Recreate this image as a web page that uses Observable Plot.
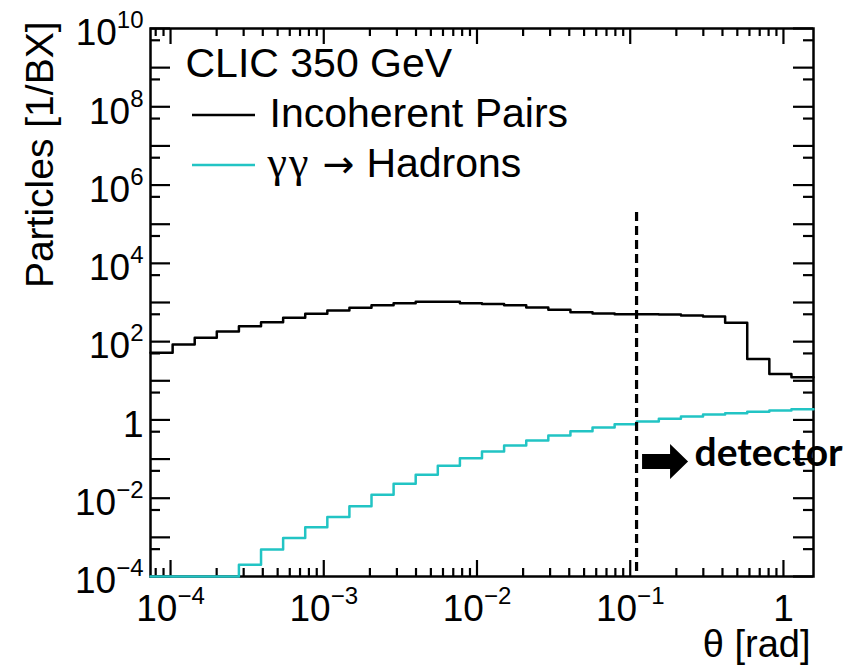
<!DOCTYPE html>
<html>
<head>
<meta charset="utf-8">
<script src="https://cdn.jsdelivr.net/npm/d3@7"></script>
<script src="https://cdn.jsdelivr.net/npm/@observablehq/plot@0.6"></script>
<style>
  html, body { margin: 0; padding: 0; background: #fff; }
  #chart svg { display: block; }
</style>
</head>
<body>
<div id="chart"></div>
<script>
// Polar angle bin edges θ [rad]: 30 logarithmic bins up to π/2
const binEdges = [
  7.40e-5, 1.032e-4, 1.438e-4, 2.004e-4, 2.794e-4, 3.896e-4, 5.430e-4, 7.568e-4,
  1.055e-3, 1.470e-3, 2.049e-3, 2.856e-3, 3.981e-3, 5.549e-3, 7.735e-3,
  1.078e-2, 1.503e-2, 2.096e-2, 2.921e-2, 4.072e-2, 5.675e-2, 7.911e-2,
  0.1103, 0.1537, 0.2143, 0.2987, 0.4163, 0.5803, 0.8089, 1.1274, 1.5708
];

// Particles per bunch crossing in each θ bin
const incoherentPairs = [
  52, 84, 125, 182, 248, 313, 406, 514, 624, 731, 853, 959, 1040, 1040, 959,
  914, 853, 745, 650, 565, 523, 502, 502, 493, 465, 438, 303, 36, 15, 12.3
];
const gammaGammaHadrons = [
  0, 0, 0, 0, 2.0e-4, 4.9e-4, 9.7e-4, 1.8e-3, 3.3e-3, 6.2e-3, 1.22e-2, 2.33e-2,
  3.96e-2, 6.8e-2, 0.105, 0.156, 0.222, 0.298, 0.399, 0.514, 0.64, 0.776, 0.91,
  1.07, 1.22, 1.37, 1.48, 1.61, 1.74, 1.87
];

// Axis labels
const xTickDecades = [-4, -3, -2, -1, 0];
const yTickDecades = [-4, -2, 0, 2, 4, 6, 8, 10];
const seriesNames = ["Incoherent Pairs", "\u03b3\u03b3 \u2192 Hadrons"];
const seriesColors = ["#000000", "#22c4c4"];
const headline = "CLIC 350 GeV";
const xTitle = "\u03b8 [rad]";
const yTitle = "Particles [1/BX]";

// Detector acceptance edge
const detectorTheta = 0.11;
const detectorLineTop = 2e5;
const detectorLabel = "detector";
const detectorLevel = 0.087;

const xDomain = [binEdges[0], binEdges[binEdges.length - 1]];
const yDomain = [1e-4, 1e10];

// Step-histogram points (last bin closed at the upper edge); empty bins sit on the axis floor
function histogram(values) {
  const pts = values.map((v, i) => ({theta: binEdges[i], n: Math.max(v, yDomain[0])}));
  pts.push({theta: binEdges[values.length], n: Math.max(values[values.length - 1], yDomain[0])});
  return pts;
}

const fmtPow = (k) => k === 0 ? "1" : "10^" + String(k).replace("-", "\u2212");

// Tick positions: decades and intermediate minor ticks
const xMajor = d3.range(-4, 1).map(k => 10 ** k);
const xMinor = [];
for (let k = -5; k <= 0; k++) for (let m = 2; m <= 9; m++) {
  const v = m * 10 ** k;
  if (v > xDomain[0] && v < xDomain[1]) xMinor.push(v);
}
const yMajor = d3.range(-4, 11).map(k => 10 ** k);
const yMinor = d3.range(-4, 10).map(k => 5 * 10 ** k);

const W = 855, H = 665;
const margin = {left: 150, right: 42, top: 28, bottom: 89};
const frameW = W - margin.left - margin.right;
const frameH = H - margin.top - margin.bottom;

const tickStroke = {stroke: "black", strokeWidth: 2.2};

// Legend swatches and the arrow pointing into the detector
function overlay(index, scales, values, dimensions) {
  const g = d3.create("svg:g");
  const x0 = dimensions.marginLeft, y0 = dimensions.marginTop;
  seriesColors.forEach((c, i) => {
    g.append("line")
      .attr("x1", x0 + 42).attr("x2", x0 + 105)
      .attr("y1", y0 + 87 + 50 * i).attr("y2", y0 + 87 + 50 * i)
      .attr("stroke", c).attr("stroke-width", 2.5);
  });
  const ax = scales.x(detectorTheta) + 6;
  const ay = scales.y(detectorLevel);
  g.append("path")
    .attr("d", `M${ax},${ay - 7}h28v-10l18,17.5l-18,17.5v-10h-28z`)
    .attr("fill", "black");
  return g.node();
}

const legendText = {frameAnchor: "top-left", textAnchor: "start", lineAnchor: "bottom", fontSize: 41, fill: "black"};

const chart = Plot.plot({
  width: W,
  height: H,
  marginLeft: margin.left,
  marginRight: margin.right,
  marginTop: margin.top,
  marginBottom: margin.bottom,
  style: {fontFamily: "'Liberation Sans', Arial, sans-serif", background: "white", color: "black", overflow: "visible"},
  x: {type: "log", domain: xDomain, axis: null},
  y: {type: "log", domain: yDomain, axis: null},
  marks: [
    // inward-pointing ticks on all four sides
    Plot.tickY(yMajor, {y: d => d, insetRight: frameW - 20, ...tickStroke}),
    Plot.tickY(yMinor, {y: d => d, insetRight: frameW - 10, ...tickStroke}),
    Plot.tickY(yMajor, {y: d => d, insetLeft: frameW - 20, ...tickStroke}),
    Plot.tickY(yMinor, {y: d => d, insetLeft: frameW - 10, ...tickStroke}),
    Plot.tickX(xMajor, {x: d => d, insetTop: frameH - 16, ...tickStroke}),
    Plot.tickX(xMinor, {x: d => d, insetTop: frameH - 8, ...tickStroke}),
    Plot.tickX(xMajor, {x: d => d, insetBottom: frameH - 16, ...tickStroke}),
    Plot.tickX(xMinor, {x: d => d, insetBottom: frameH - 8, ...tickStroke}),
    Plot.frame({stroke: "black", strokeWidth: 2.5}),

    // histograms
    Plot.line(histogram(incoherentPairs), {x: "theta", y: "n", curve: "step-after", stroke: seriesColors[0], strokeWidth: 2.5}),
    Plot.line(histogram(gammaGammaHadrons), {x: "theta", y: "n", curve: "step-after", stroke: seriesColors[1], strokeWidth: 2.5}),

    // detector edge
    Plot.ruleX([detectorTheta], {y1: detectorLineTop, y2: yDomain[0], stroke: "black", strokeWidth: 3.2, strokeDasharray: "9,5"}),

    // tick labels
    Plot.text(yTickDecades, {y: d => 10 ** d, text: fmtPow, frameAnchor: "left", textAnchor: "end", dx: -7, dy: 5, fontSize: 37, fill: "black"}),
    Plot.text(xTickDecades, {x: d => 10 ** d, text: fmtPow, frameAnchor: "bottom", textAnchor: "middle", lineAnchor: "top", dy: 18, fontSize: 37, fill: "black"}),

    // axis titles
    Plot.text([xTitle], {frameAnchor: "bottom-right", textAnchor: "end", lineAnchor: "bottom", dx: -3, dy: 80, fontSize: 38, fill: "black"}),
    Plot.text([yTitle], {frameAnchor: "top-left", textAnchor: "end", lineAnchor: "bottom", rotate: -90, dx: -98, dy: -7, fontSize: 39, fill: "black"}),

    // legend
    Plot.text([headline], {...legendText, dx: 35, dy: 48}),
    Plot.text([seriesNames[0]], {...legendText, dx: 119, dy: 98}),
    Plot.text([seriesNames[1]], {...legendText, dx: 117, dy: 148}),

    // detector annotation
    Plot.text([detectorLabel], {x: detectorTheta, y: detectorLevel, textAnchor: "start", lineAnchor: "bottom", dx: 58, dy: 5, fontSize: 39, fontWeight: "bold", fontFamily: "Lato, 'Open Sans', sans-serif", fill: "black"}),
    overlay
  ]
});

// Raise powers of ten: "10^k" -> 10 with a superscript exponent
chart.querySelectorAll("text").forEach(t => {
  const m = /^10\^(.+)$/.exec(t.textContent);
  if (!m) return;
  t.textContent = "10";
  const sup = document.createElementNS("http://www.w3.org/2000/svg", "tspan");
  sup.setAttribute("dy", "-17");
  sup.setAttribute("font-size", "24");
  sup.textContent = m[1];
  t.appendChild(sup);
});

// Greek letters in a serif face and a wider arrow in the γγ legend entry
chart.querySelectorAll("text").forEach(t => {
  if (t.textContent !== seriesNames[1]) return;
  const [gg, arrow, rest] = seriesNames[1].split(" ");
  t.textContent = "";
  const parts = [
    {str: gg, family: "'Liberation Serif', serif", size: 44, spacing: 2},
    {str: " " + arrow + " ", family: "'DejaVu Sans', sans-serif", size: 38},
    {str: rest}
  ];
  for (const p of parts) {
    const s = document.createElementNS("http://www.w3.org/2000/svg", "tspan");
    if (p.family) s.setAttribute("font-family", p.family);
    if (p.size) s.setAttribute("font-size", p.size);
    if (p.spacing) s.setAttribute("letter-spacing", p.spacing);
    s.textContent = p.str;
    t.appendChild(s);
  }
});

document.getElementById("chart").appendChild(chart);
</script>
</body>
</html>
